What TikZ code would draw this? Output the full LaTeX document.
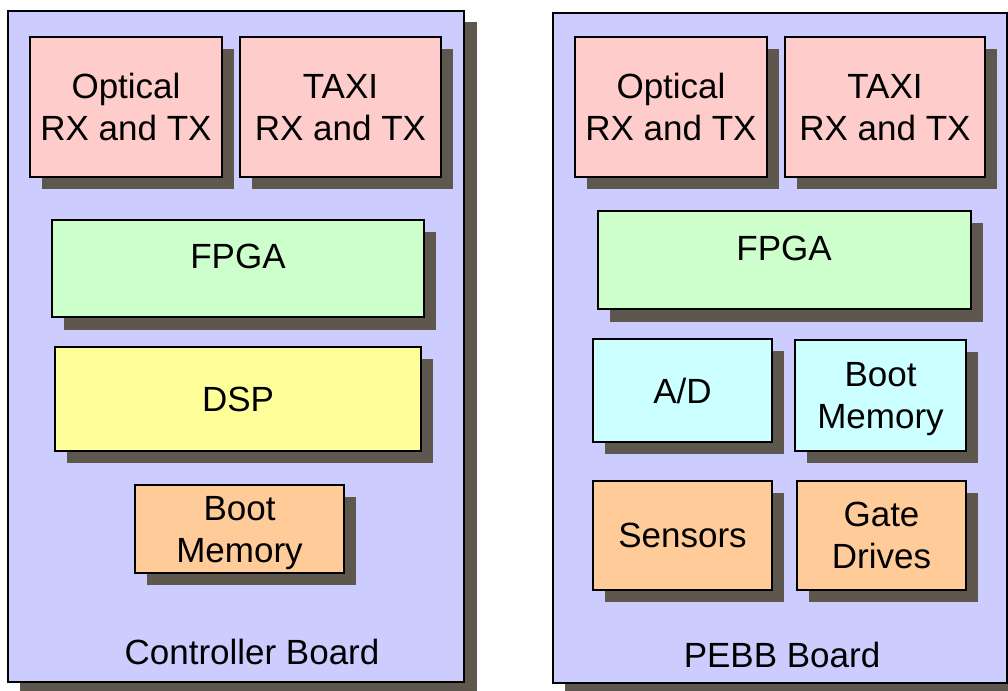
\documentclass[tikz,border=0pt]{standalone}
\usepackage{fontspec}
\setmainfont{Liberation Sans}
\definecolor{shade}{HTML}{5E574E}
\definecolor{boardfill}{HTML}{CCCCFF}
\definecolor{linkfill}{HTML}{FFCCCC}
\definecolor{logicfill}{HTML}{CCFFCC}
\definecolor{dspfill}{HTML}{FFFF99}
\definecolor{memfill}{HTML}{FFCC99}
\definecolor{adcfill}{HTML}{CCFFFF}
\tikzset{
  board/.style={draw=black, line width=2pt, fill=boardfill},
  part/.style={draw=black, line width=2pt},
  shadowbox/.style={fill=shade},
  lbl/.style={font=\fontsize{35}{42}\selectfont, align=center, text depth=0pt, inner sep=0pt},
}
% shadowed block: #1 = name, #2 = fill, #3/#4 = corners, #5 = label
\newcommand\block[5]{%
  \fill[shadowbox] ($#3+(12,12)$) rectangle ($#4+(12,12)$);
  \draw[part, fill=#2] #3 rectangle #4;
  \node[lbl] (#1) at ($#3!0.5!#4$) {#5};
}
\usetikzlibrary{calc}
\begin{document}
\begin{tikzpicture}[x=1pt, y=-1pt]
\useasboundingbox (0,0) rectangle (1008,690);
\clip (0,0) rectangle (1008,690);

% ---- controller board ----
\fill[shadowbox] (20,22) rectangle (477,694);
\draw[board] (8,11) rectangle (464,682);
\block{optL}{linkfill}{(30,37)}{(222,177)}{Optical\\RX and TX}
\block{taxiL}{linkfill}{(240,37)}{(441,177)}{TAXI\\RX and TX}
\fill[shadowbox] (64,232) rectangle (436,330);
\draw[part, fill=logicfill] (52,220) rectangle (424,317);
\node[lbl] (fpgaL) at (238,256) {FPGA};
\block{dsp}{dspfill}{(55,347)}{(421,451)}{DSP}
\block{bootL}{memfill}{(135,485)}{(344,573)}{Boot\\Memory}
\node[lbl] (ctrl) at (252,652) {Controller Board};

% ---- PEBB board ----
\fill[shadowbox] (565,25) rectangle (1020,696);
\draw[board] (553,13) rectangle (1007,683);
\block{optR}{linkfill}{(575,37)}{(767,177)}{Optical\\RX and TX}
\block{taxiR}{linkfill}{(785,37)}{(985,177)}{TAXI\\RX and TX}
\fill[shadowbox] (610,223) rectangle (983,322);
\draw[part, fill=logicfill] (598,211) rectangle (971,309);
\node[lbl] (fpgaR) at (784,248) {FPGA};
\block{adc}{adcfill}{(593,339)}{(772,442)}{A/D}
\block{bootR}{adcfill}{(795,340)}{(966,451)}{Boot\\Memory}
\block{sens}{memfill}{(593,481)}{(772,590)}{Sensors}
\block{gate}{memfill}{(797,481)}{(966,590)}{Gate\\Drives}
\node[lbl] (pebb) at (782,655) {PEBB Board};
\end{tikzpicture}
\end{document}
